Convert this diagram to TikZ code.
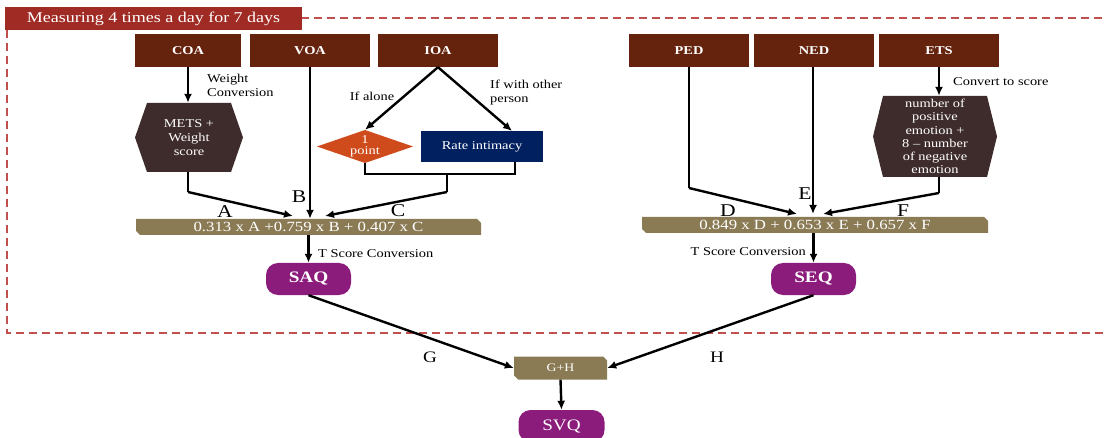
\documentclass[tikz,border=0pt]{standalone}
\usepackage{fontspec}
\setmainfont{Liberation Serif}[FakeStretch=1.2]
\usetikzlibrary{arrows.meta}
\definecolor{titlered}{HTML}{9F2B24}
\definecolor{dashred}{HTML}{C0504D}
\definecolor{boxbrown}{HTML}{65230D}
\definecolor{hexbrown}{HTML}{3E2C2C}
\definecolor{diaorange}{HTML}{D04B1B}
\definecolor{navy}{HTML}{002060}
\definecolor{barcol}{HTML}{8B7B55}
\definecolor{pill}{HTML}{8B1C7C}
\newcommand{\fs}[2]{\fontsize{#1}{#2}\selectfont}
\tikzset{
  topbox/.style={fill=boxbrown, text=white, font=\fs{12}{14}\bfseries,
    minimum width=120pt, minimum height=33pt, inner sep=0pt},
  hexbox/.style={inner sep=0pt, text=white, align=center,
    path picture={\fill[hexbrown] (path picture bounding box.west)
      -- ([xshift=#1]path picture bounding box.north west)
      -- ([xshift=-#1]path picture bounding box.north east)
      -- (path picture bounding box.east)
      -- ([xshift=-#1]path picture bounding box.south east)
      -- ([xshift=#1]path picture bounding box.south west) -- cycle;}},
  diabox/.style={inner sep=0pt, text=white, align=center,
    path picture={\fill[diaorange] (path picture bounding box.west)
      -- (path picture bounding box.north)
      -- (path picture bounding box.east)
      -- (path picture bounding box.south) -- cycle;}},
  barbox/.style={inner sep=0pt, text=white,
    path picture={\fill[barcol] (path picture bounding box.north west)
      -- ([xshift=-4pt]path picture bounding box.north east)
      -- ([yshift=-4pt]path picture bounding box.north east)
      -- (path picture bounding box.south east)
      -- ([xshift=4pt]path picture bounding box.south west)
      -- ([yshift=4pt]path picture bounding box.south west) -- cycle;}},
  pillbox/.style={fill=pill, text=white, rounded corners=12pt, inner sep=0pt,
    minimum width=85pt, minimum height=32pt},
  lbl/.style={inner sep=0pt, font=\fs{12}{14}, align=left},
  letter/.style={inner sep=0pt, font=\fs{18}{18}},
  conn/.style={line width=2.4pt, -{Latex[length=9pt,width=8pt]}},
  plain/.style={line width=2.4pt},
  dashframe/.style={draw=dashred, line width=1.6pt, dash pattern=on 8pt off 5pt}
}
\begin{document}
\begin{tikzpicture}[x=1pt,y=-1pt]
\useasboundingbox (0,0) rectangle (1105,438);
\fill[white] (0,0) rectangle (1105,438);

% dashed frame
\coordinate (fr1) at (301,18);
\coordinate (fr2) at (1106,18);
\coordinate (fr3) at (7,30);
\coordinate (fr4) at (7,333);
\coordinate (fr5) at (1106,333);
\draw[dashframe] (fr1) -- (fr2);
\draw[dashframe] (fr3) -- (fr4) -- (fr5);
\node[fill=titlered, text=white, font=\fs{15}{17}, minimum width=297pt,
  minimum height=23pt, inner sep=0pt] (title) at (153.5,18.5) {Measuring 4 times a day for 7 days};

% top boxes
\node[topbox, minimum width=106pt] (coa) at (188,50.5) {COA};
\node[topbox] (voa) at (310,50.5) {VOA};
\node[topbox] (ioa) at (438,50.5) {IOA};
\node[topbox] (ped) at (689,50.5) {PED};
\node[topbox] (ned) at (814,50.5) {NED};
\node[topbox] (ets) at (939,50.5) {ETS};

% left side
\node[hexbox=12pt, minimum width=108pt, minimum height=69pt, font=\fs{12}{14}] (mets) at (189,137.5) {METS +\\Weight\\score};
\node[diabox, minimum width=96pt, minimum height=33pt, font=\fs{12}{12}] (dia) at (365,146.5) {1\\[-1pt]point};
\node[fill=navy, text=white, font=\fs{12}{14}, minimum width=122pt, minimum height=31pt, inner sep=0pt] (rate) at (482,146.5) {Rate intimacy};

\node[lbl, anchor=north west] (wc) at (207,74) {Weight\\Conversion};
\node[lbl] (alone) at (372,96) {If alone};
\node[lbl, anchor=north west] (other) at (490,80) {If with other\\person};

\node[letter] (la) at (225,212) {A};
\node[letter] (lb) at (299,197) {B};
\node[letter] (lc) at (398,211) {C};

\node[barbox, minimum width=345pt, minimum height=16pt, font=\fs{14}{14}] (fabc) at (308.5,227) {0.313 x A +0.759 x B + 0.407 x C};

\coordinate (tipA) at (293,216);
\coordinate (tipC) at (325,216);
\coordinate (bendA) at (188,192);
\coordinate (mrgL) at (365,174);
\coordinate (mrgR) at (515,174);
\coordinate (mrgM) at (447,174);
\coordinate (bendC) at (447,192);
\coordinate (rateTop) at (512,131);
\coordinate (rateBot) at (515,162);

\draw[conn] (coa.south) -- (coa.south |- mets.north);
\draw[plain] (coa.south |- mets.south) -- (bendA);
\draw[conn] (bendA) -- (tipA);
\draw[conn] (voa.south) -- (voa.south |- fabc.north);
\draw[conn] (ioa.south) -- (dia.north);
\draw[conn] (ioa.south) -- (rateTop);
\draw[plain] (dia.south) -- (mrgL) -- (mrgR) -- (rateBot);
\draw[plain] (mrgM) -- (bendC);
\draw[conn] (bendC) -- (tipC);

% right side
\node[hexbox=10pt, minimum width=124pt, minimum height=81pt, font=\fs{12}{13.3}] (emo) at (935,136.5) {number of\\positive\\emotion +\\8 -- number\\of negative\\emotion};
\node[lbl, anchor=west] (conv) at (953,82) {Convert to score};

\node[letter] (ld) at (728,211) {D};
\node[letter] (le) at (805,194) {E};
\node[letter] (lf) at (903,211) {F};

\node[barbox, minimum width=346pt, minimum height=16pt, font=\fs{14}{14}] (fdef) at (815,225) {0.849 x D + 0.653 x E + 0.657 x F};

\coordinate (bendD) at (689,188);
\coordinate (tipD) at (797,214);
\coordinate (tipE) at (813,214);
\coordinate (bendF) at (939,193);
\coordinate (tipF) at (823,214);

\draw[plain] (ped.south) -- (bendD);
\draw[conn] (bendD) -- (tipD);
\draw[conn] (ned.south -| tipE) -- (tipE);
\draw[conn] (ets.south) -- (ets.south |- emo.north);
\draw[plain] (ets.south |- emo.south) -- (bendF);
\draw[conn] (bendF) -- (tipF);

% scores
\node[pillbox, font=\fs{16}{16}\bfseries] (saq) at (308.5,279) {SAQ};
\node[pillbox, font=\fs{16}{16}\bfseries] (seq) at (813.5,279) {SEQ};
\draw[conn] (fabc.south -| saq.north) -- (saq.north);
\draw[conn] (fdef.south -| seq.north) -- (seq.north);
\node[lbl, anchor=west] (tsl) at (318,254) {T Score Conversion};
\node[lbl, anchor=east] (tsr) at (806,252) {T Score Conversion};

\node[barbox, minimum width=93pt, minimum height=23pt, font=\fs{11.5}{12}] (gh) at (560.5,368) {G+H};
\node[pillbox, font=\fs{16}{16}, minimum width=86pt] (svq) at (561.5,426) {SVQ};
\node[letter, font=\fs{16}{16}] (lg) at (430,357) {G};
\node[letter, font=\fs{16}{16}] (lh) at (717,357) {H};

\draw[conn] (saq.south) -- (gh.west);
\draw[conn] (seq.south) -- (gh.east);
\draw[conn] (gh.south) -- (svq.north);
\end{tikzpicture}
\end{document}
